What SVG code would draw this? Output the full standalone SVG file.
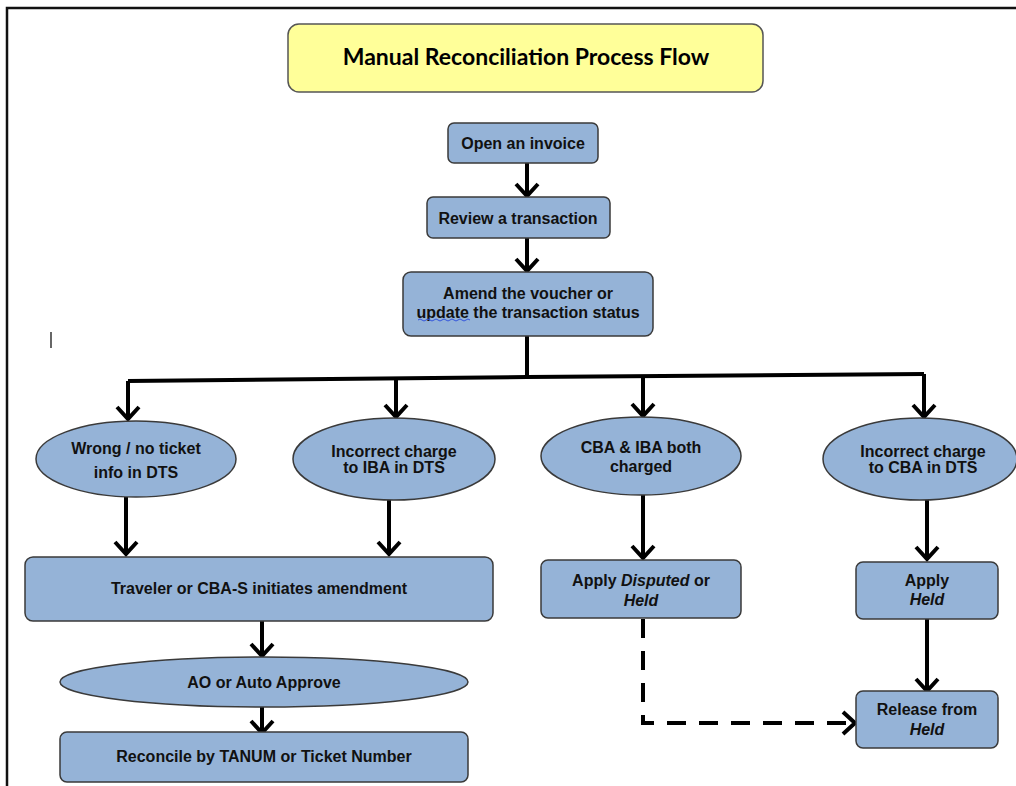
<svg xmlns="http://www.w3.org/2000/svg" width="1016" height="786" viewBox="0 0 1016 786">
  <defs>
    <marker id="chev" markerUnits="userSpaceOnUse" markerWidth="28" markerHeight="28" viewBox="0 0 28 28" refX="17" refY="14" orient="auto">
      <path d="M5,3 L17,14 L5,25" fill="none" stroke="#000" stroke-width="4" stroke-linejoin="miter"/>
    </marker>
    <style>
      .box { fill: #95B3D7; stroke: #3a3a3a; stroke-width: 1.5; }
      .title { fill: #FFFF99; stroke: #555; stroke-width: 1.5; }
      .lbl { font-family: "Liberation Sans", Arial, sans-serif; font-weight: bold; font-size: 16px; fill: #111; text-anchor: middle; }
      .ttl { font-family: Lato, "Liberation Sans", sans-serif; font-weight: bold; font-size: 23px; fill: #000; text-anchor: middle; }
      .flow { fill: none; stroke: #000; stroke-width: 4; }
      .arrow { fill: none; stroke: #000; stroke-width: 4; marker-end: url(#chev); }
      .dash { fill: none; stroke: #000; stroke-width: 4; stroke-dasharray: 19 13; marker-end: url(#chev); }
    </style>
  </defs>

  <rect width="1016" height="786" fill="#fff"/>
  <!-- page frame -->
  <path d="M7,786 V8 H1016" fill="none" stroke="#111" stroke-width="2.5"/>
  <!-- text cursor -->
  <line x1="51" y1="332" x2="51" y2="348" stroke="#000" stroke-width="1.2"/>

  <g id="connectors">
    <line class="arrow" x1="527" y1="163" x2="527" y2="196"/>
    <line class="arrow" x1="527" y1="238" x2="527" y2="271"/>
    <line class="flow" x1="527" y1="336" x2="527" y2="378"/>
    <polyline class="flow" points="128,381 527,377 924,374"/>
    <line class="arrow" x1="128" y1="381" x2="128" y2="419"/>
    <line class="arrow" x1="396" y1="379" x2="396" y2="417"/>
    <line class="arrow" x1="643" y1="376" x2="643" y2="416"/>
    <line class="arrow" x1="924" y1="374" x2="924" y2="417"/>
    <line class="arrow" x1="126" y1="497" x2="126" y2="554"/>
    <line class="arrow" x1="389" y1="500" x2="389" y2="554"/>
    <line class="arrow" x1="643" y1="495" x2="643" y2="558"/>
    <line class="arrow" x1="927" y1="500" x2="927" y2="559"/>
    <line class="arrow" x1="262" y1="621" x2="262" y2="656"/>
    <line class="arrow" x1="262" y1="707" x2="262" y2="733"/>
    <line class="arrow" x1="927" y1="619" x2="927" y2="691"/>
    <polyline class="dash" points="643,619 643,723 855,723"/>
  </g>

  <g id="title">
    <rect class="title" x="288" y="24" width="475" height="68" rx="11"/>
    <text class="ttl" x="526" y="65">Manual Reconciliation Process Flow</text>
  </g>

  <g id="open-invoice">
    <rect class="box" x="448" y="123" width="150" height="40" rx="6"/>
    <text class="lbl" x="523" y="149">Open an invoice</text>
  </g>

  <g id="review-transaction">
    <rect class="box" x="427" y="197" width="183" height="41" rx="6"/>
    <text class="lbl" x="518" y="224">Review a transaction</text>
  </g>

  <g id="amend-voucher">
    <rect class="box" x="403" y="272" width="250" height="64" rx="8"/>
    <text class="lbl" x="528" y="299">Amend the voucher or</text>
    <text class="lbl" x="528" y="318">update the transaction status</text>
    <path d="M418,320 q2,-2 4,0 t4,0 t4,0 t4,0 t4,0 t4,0 t4,0 t4,0 t4,0 t4,0 t4,0 t4,0 t4,0" fill="none" stroke="#3355dd" stroke-width="1"/>
  </g>

  <g id="wrong-ticket">
    <ellipse class="box" cx="136" cy="459" rx="100" ry="38"/>
    <text class="lbl" x="136" y="454">Wrong / no ticket</text>
    <text class="lbl" x="136" y="478">info in DTS</text>
  </g>

  <g id="incorrect-iba">
    <ellipse class="box" cx="394" cy="459" rx="101" ry="41"/>
    <text class="lbl" x="394" y="457">Incorrect charge</text>
    <text class="lbl" x="394" y="473">to IBA in DTS</text>
  </g>

  <g id="both-charged">
    <ellipse class="box" cx="641" cy="456" rx="100" ry="39"/>
    <text class="lbl" x="641" y="453">CBA &amp; IBA both</text>
    <text class="lbl" x="641" y="472">charged</text>
  </g>

  <g id="incorrect-cba">
    <ellipse class="box" cx="920" cy="459" rx="97" ry="41"/>
    <text class="lbl" x="923" y="457">Incorrect charge</text>
    <text class="lbl" x="923" y="473">to CBA in DTS</text>
  </g>

  <g id="traveler-amend">
    <rect class="box" x="25" y="557" width="468" height="64" rx="8"/>
    <text class="lbl" x="259" y="594">Traveler or CBA-S initiates amendment</text>
  </g>

  <g id="apply-disputed">
    <rect class="box" x="541" y="560" width="200" height="58" rx="7"/>
    <text class="lbl" x="641" y="586">Apply <tspan font-style="italic">Disputed</tspan> or</text>
    <text class="lbl" x="641" y="606" font-style="italic">Held</text>
  </g>

  <g id="apply-held">
    <rect class="box" x="856" y="562" width="142" height="57" rx="7"/>
    <text class="lbl" x="927" y="586">Apply</text>
    <text class="lbl" x="927" y="605" font-style="italic">Held</text>
  </g>

  <g id="ao-approve">
    <ellipse class="box" cx="264" cy="682" rx="204" ry="25"/>
    <text class="lbl" x="264" y="688">AO or Auto Approve</text>
  </g>

  <g id="reconcile">
    <rect class="box" x="60" y="732" width="408" height="50" rx="7"/>
    <text class="lbl" x="264" y="762">Reconcile by TANUM or Ticket Number</text>
  </g>

  <g id="release-held">
    <rect class="box" x="856" y="691" width="142" height="57" rx="7"/>
    <text class="lbl" x="927" y="715">Release from</text>
    <text class="lbl" x="927" y="735" font-style="italic">Held</text>
  </g>
</svg>
